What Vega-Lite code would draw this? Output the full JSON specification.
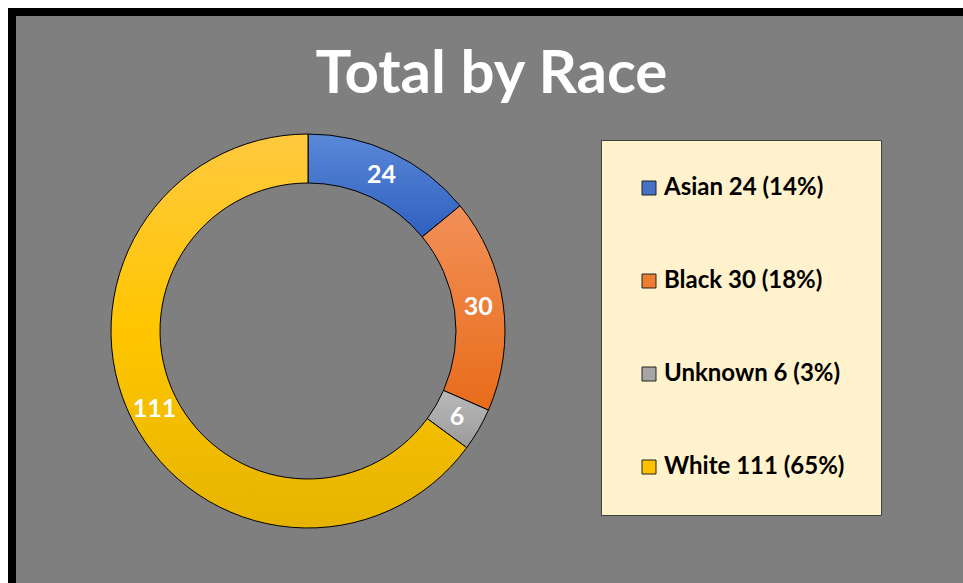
{
  "$schema": "https://vega.github.io/schema/vega-lite/v6.json",
  "width": 959,
  "height": 579,
  "autosize": {"type": "none"},
  "padding": {"left": 12, "top": 12, "right": -8, "bottom": -8},
  "background": "white",
  "title": {
    "text": "Total by Race",
    "color": "white",
    "font": "Lato",
    "fontSize": 60,
    "fontWeight": "bold",
    "anchor": "middle",
    "frame": "group",
    "baseline": "alphabetic",
    "offset": 0,
    "dy": 141
  },
  "data": {
    "values": [
      {"label": "Asian 24 (14%)", "n": 24},
      {"label": "Black 30 (18%)", "n": 30},
      {"label": "Unknown 6 (3%)", "n": 6},
      {"label": "White 111 (65%)", "n": 111}
    ]
  },
  "encoding": {
    "theta": {"field": "n", "type": "quantitative", "stack": true},
    "order": {"field": "label", "type": "nominal", "sort": "ascending"},
    "x": {"value": 296},
    "y": {"value": 319}
  },
  "layer": [
    {
      "mark": {"type": "arc", "outerRadius": 197, "innerRadius": 148, "stroke": "black", "strokeWidth": 1},
      "encoding": {
        "color": {
          "condition": [
            {"test": "datum.label === 'Asian 24 (14%)'", "value": {"gradient": "linear", "x1": 0, "y1": 0, "x2": 0, "y2": 1, "stops": [{"offset": 0, "color": "#5a88d8"}, {"offset": 1, "color": "#2e60bf"}]}},
            {"test": "datum.label === 'Black 30 (18%)'", "value": {"gradient": "linear", "x1": 0, "y1": 0, "x2": 0, "y2": 1, "stops": [{"offset": 0, "color": "#f29058"}, {"offset": 1, "color": "#e86c1a"}]}},
            {"test": "datum.label === 'Unknown 6 (3%)'", "value": {"gradient": "linear", "x1": 0, "y1": 0, "x2": 0, "y2": 1, "stops": [{"offset": 0, "color": "#b9b9b9"}, {"offset": 1, "color": "#9b9b9b"}]}},
            {"test": "datum.label === 'White 111 (65%)'", "value": {"gradient": "linear", "x1": 0, "y1": 0, "x2": 0, "y2": 1, "stops": [{"offset": 0, "color": "#ffc93f"}, {"offset": 0.5, "color": "#ffc600"}, {"offset": 1, "color": "#e6b400"}]}}
          ],
          "field": "label",
          "type": "nominal",
          "scale": {
            "domain": ["Asian 24 (14%)", "Black 30 (18%)", "Unknown 6 (3%)", "White 111 (65%)"],
            "range": ["#4472c4", "#ed7d31", "#a5a5a5", "#ffc000"]
          },
          "legend": {
            "title": null,
            "orient": "none",
            "legendX": 589,
            "legendY": 128,
            "fillColor": "#fff2cc",
            "strokeColor": "#404040",
            "padding": 36,
            "symbolOffset": 0,
            "symbolType": "square",
            "symbolSize": 196,
            "symbolStrokeColor": "#222222",
            "symbolStrokeWidth": 1,
            "labelFont": "Lato",
            "labelFontSize": 24,
            "labelFontWeight": "bold",
            "labelColor": "black",
            "labelOffset": 3,
            "labelLimit": 300,
            "rowPadding": 69
          }
        }
      }
    },
    {
      "mark": {"type": "text", "radius": 172, "color": "white", "font": "Lato", "fontSize": 25, "fontWeight": "bold", "align": "center", "baseline": "middle"},
      "encoding": {
        "text": {"field": "n", "type": "quantitative"},
        "detail": {"field": "label", "type": "nominal"}
      }
    }
  ],
  "config": {
    "view": {"fill": "#7f7f7f", "stroke": "black", "strokeWidth": 8}
  }
}
